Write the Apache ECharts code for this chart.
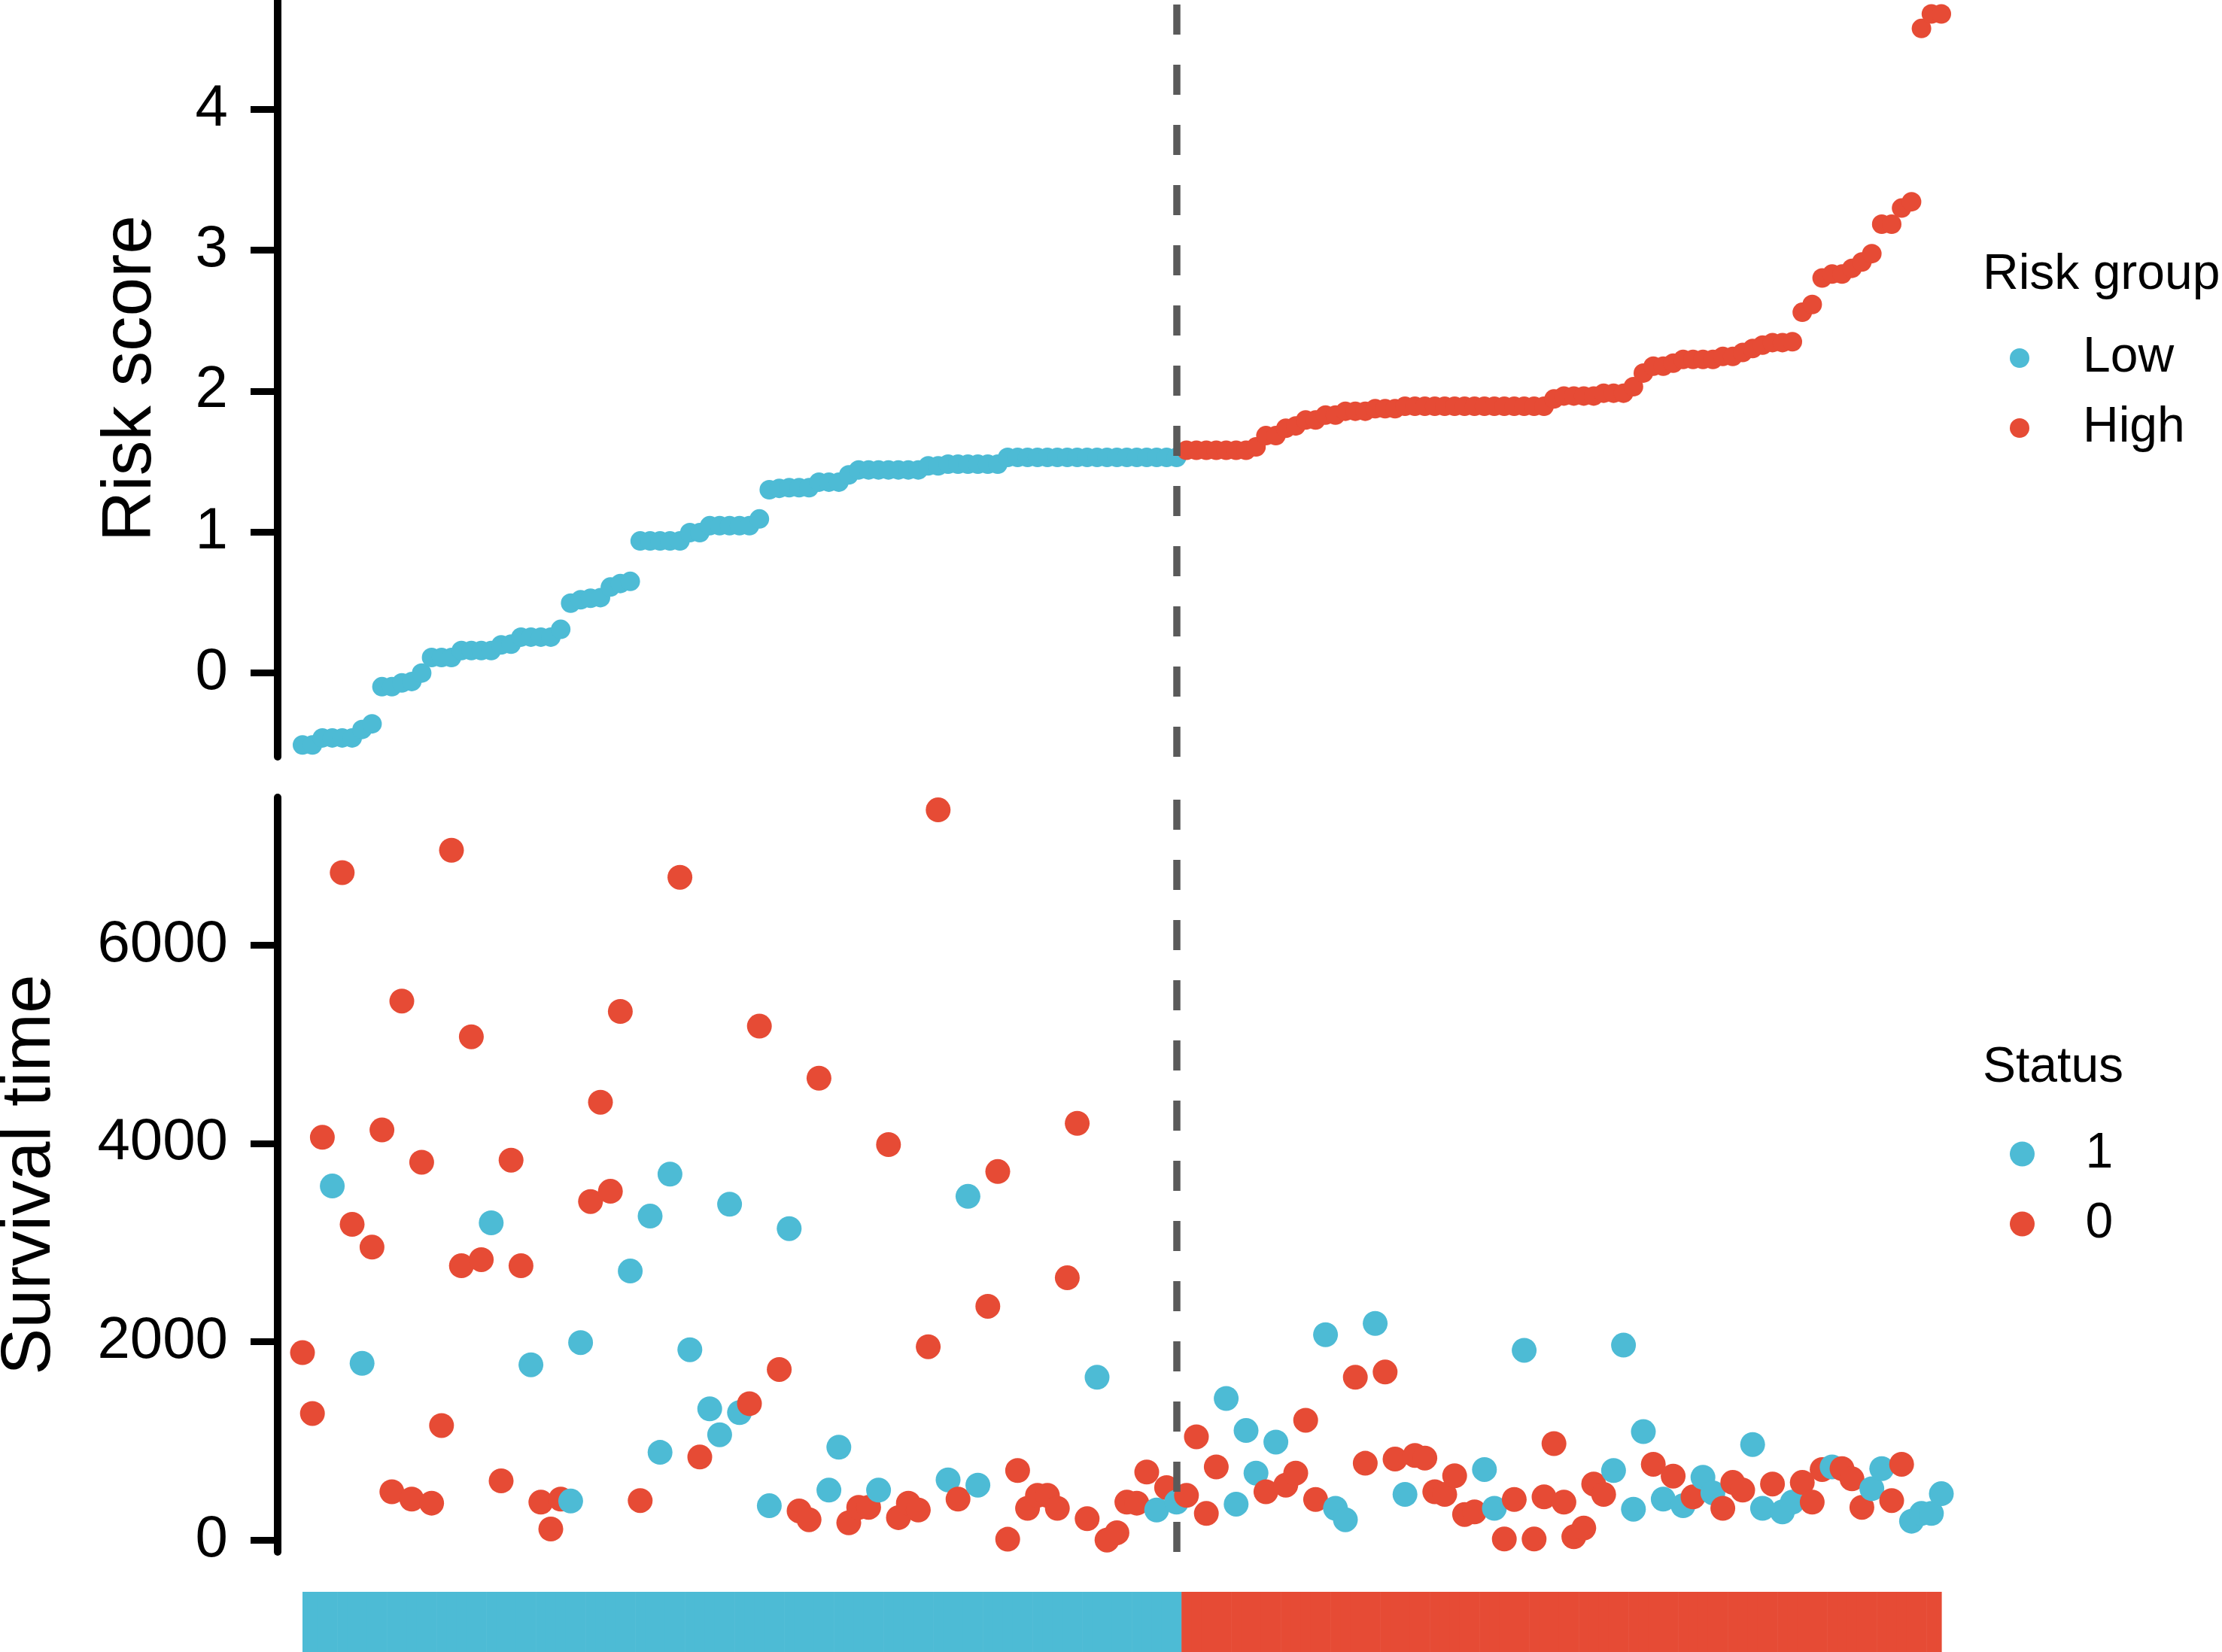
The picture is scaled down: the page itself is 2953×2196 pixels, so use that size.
<!DOCTYPE html>
<html>
<head>
<meta charset="utf-8">
<script src="https://cdn.jsdelivr.net/npm/echarts@6/dist/echarts.min.js"></script>
<style>
html,body{margin:0;padding:0;background:#fff;}
#chart{width:2953px;height:2196px;}
</style>
</head>
<body>
<div id="chart"></div>
<script>
// ---- Data ----
// Risk scores of the low-risk group (sorted, samples 1..89)
const lowRiskScore = [
  -0.51, -0.51, -0.46, -0.46, -0.46, -0.46, -0.40, -0.36,
  -0.097, -0.097, -0.07, -0.06, 0.0,
  0.11, 0.11, 0.11, 0.16, 0.16, 0.16, 0.16, 0.20, 0.205, 0.255, 0.255, 0.255, 0.255, 0.31,
  0.496, 0.52, 0.53, 0.535, 0.61, 0.635, 0.65,
  0.937, 0.937, 0.937, 0.937, 0.937, 0.996, 0.996, 1.045, 1.045, 1.045, 1.045, 1.045, 1.093,
  1.30, 1.31, 1.315, 1.315, 1.315,
  1.354, 1.354, 1.354,
  1.406,
  1.441, 1.441, 1.441, 1.441, 1.441, 1.441, 1.441,
  1.47, 1.47,
  1.482, 1.482, 1.482, 1.482, 1.482, 1.482,
  1.53, 1.53, 1.53, 1.53, 1.53, 1.53, 1.53, 1.53, 1.53, 1.53, 1.53, 1.53, 1.53, 1.53, 1.53, 1.53, 1.53, 1.53
];
// Risk scores of the high-risk group (sorted, samples 90..166)
const highRiskScore = [
  1.58, 1.58, 1.58, 1.58, 1.58, 1.58, 1.58, 1.604, 1.684, 1.684,
  1.736, 1.753, 1.795, 1.795, 1.83, 1.83, 1.857, 1.857, 1.857, 1.875,
  1.875, 1.875, 1.892, 1.892, 1.892, 1.892, 1.892, 1.892, 1.892, 1.892,
  1.892, 1.892, 1.892, 1.892, 1.892, 1.892, 1.892, 1.944, 1.965, 1.965,
  1.965, 1.965, 1.985, 1.985, 1.985, 2.031, 2.128, 2.177, 2.177, 2.198,
  2.225, 2.225, 2.225, 2.225, 2.246, 2.246, 2.274, 2.302, 2.326, 2.344,
  2.344, 2.35, 2.559, 2.614, 2.802, 2.83, 2.83, 2.871, 2.916, 2.975,
  3.184, 3.184, 3.298, 3.343, 4.572, 4.675, 4.675
];
// Survival time of each sample (same order as risk score)
const survivalTime = [
  1889, 1276, 4060, 3569, 6729, 3183, 1782, 2953, 4134, 487,
  5434, 413, 3809, 372, 1155, 6954, 2765, 5074, 2827, 3198,
  597, 3830, 2765, 1767, 382, 111, 413, 393, 1991, 3413,
  4414, 3516, 5329, 2712, 398, 3266, 884, 3689, 6682, 1919,
  837, 1323, 1062, 3386, 1285, 1375, 5181, 346, 1720, 3140,
  294, 205, 4656, 503, 936, 174, 330, 330, 503, 3987,
  226, 372, 303, 1949, 7361, 607, 413, 3465, 554, 2357,
  3715, 8, 701, 320, 450, 450, 320, 2644, 4201, 215,
  1641, 0, 74, 382, 372, 686, 303, 529, 382, 450,
  1041, 268, 737, 1427, 362, 1104, 675, 487, 988, 554,
  675, 1208, 409, 2070, 320, 205, 1641, 774, 2184, 1694,
  816, 460, 853, 827, 487, 460, 648, 258, 283, 711,
  320, 10, 409, 1913, 10, 435, 972, 382, 33, 121,
  565, 460, 701, 1965, 311, 1093, 764, 413, 645, 346,
  435, 633, 476, 320, 581, 503, 963, 320, 565, 283,
  382, 581, 382, 711, 737, 720, 617, 330, 518, 720,
  398, 764, 190, 268, 268, 467
];
// Status of each sample (1 / 0)
const status = [
  0,0,0,1,0,0,1,0,0,0,
  0,0,0,0,0,0,0,0,0,1,
  0,0,0,1,0,0,0,1,1,0,
  0,0,0,1,0,1,1,1,0,1,
  0,1,1,1,1,0,0,1,0,1,
  0,0,0,1,1,0,0,0,1,0,
  0,0,0,0,0,1,0,1,1,0,
  0,0,0,0,0,0,0,0,0,0,
  1,0,0,0,0,0,1,0,1,0,
  0,0,0,1,1,1,1,0,1,0,
  0,0,0,1,1,1,0,0,1,0,
  0,1,0,0,0,0,0,0,0,1,
  1,0,0,1,0,0,0,0,0,0,
  0,0,1,1,1,1,0,1,0,1,
  0,1,1,0,0,0,1,1,0,1,
  1,0,0,0,1,0,0,0,1,1,
  0,0,1,1,1,1
];
const riskTicks = [0, 1, 2, 3, 4];
const survivalTicks = [0, 2000, 4000, 6000];
const groupNames = ['Low', 'High'];
const statusNames = ['1', '0'];

// ---- Derived ----
const nLow = lowRiskScore.length;
const riskScore = lowRiskScore.concat(highRiskScore);
const N = riskScore.length;
const sampleIndex = riskScore.map((_, k) => k + 1);

const BLUE = '#4DBBD5';
const RED = '#E64B35';
const FONT = "'Liberation Sans', Arial, Helvetica, sans-serif";

const GL = 369, GW = 2250.6;
const xAxisBase = { type: 'value', min: -1.5, max: 169, show: false };

function yAxisStyle(ticks) {
  return {
    axisLine: { show: true, onZero: false, lineStyle: { color: '#000', width: 10 } },
    axisTick: { show: true, length: 36, lineStyle: { color: '#000', width: 9 }, customValues: ticks },
    axisLabel: { show: true, margin: 66, fontSize: 78, color: '#000', fontFamily: FONT,
                 customValues: ticks, formatter: v => String(v) },
    splitLine: { show: false },
    nameLocation: 'middle',
    nameTextStyle: { fontSize: 93, color: '#000', fontFamily: FONT }
  };
}

const chart = echarts.init(document.getElementById('chart'), null, { width: 2953, height: 2196 });

const option = {
  animation: false,
  backgroundColor: '#ffffff',
  textStyle: { fontFamily: FONT },
  title: [
    { text: 'Risk group', left: 2635, top: 333, padding: 0,
      textStyle: { fontSize: 66, fontWeight: 'normal', color: '#000', fontFamily: FONT } },
    { text: 'Status', left: 2635, top: 1387, padding: 0,
      textStyle: { fontSize: 66, fontWeight: 'normal', color: '#000', fontFamily: FONT } }
  ],
  legend: [
    { data: groupNames, orient: 'vertical', left: 2671, top: 443, padding: 0,
      itemWidth: 158, itemHeight: 26, itemGap: 27, icon: 'circle', selectedMode: false,
      textStyle: { fontSize: 66, color: '#000', fontFamily: FONT } },
    { data: statusNames, orient: 'vertical', left: 2671, top: 1501, padding: 0,
      itemWidth: 158, itemHeight: 33, itemGap: 27, icon: 'circle', selectedMode: false,
      textStyle: { fontSize: 66, color: '#000', fontFamily: FONT } }
  ],
  grid: [
    { left: GL, top: 0, width: GW, height: 1006, containLabel: false, outerBoundsMode: 'none' },
    { left: GL, top: 1060, width: GW, height: 1003, containLabel: false, outerBoundsMode: 'none' },
    { left: GL, top: 2116, width: GW, height: 80, containLabel: false, outerBoundsMode: 'none' }
  ],
  xAxis: [
    Object.assign({ gridIndex: 0 }, xAxisBase),
    Object.assign({ gridIndex: 1 }, xAxisBase),
    Object.assign({ gridIndex: 2 }, xAxisBase)
  ],
  yAxis: [
    Object.assign({ type: 'value', gridIndex: 0, min: -0.594, max: 4.774, name: 'Risk score', nameGap: 148 },
                  yAxisStyle(riskTicks)),
    Object.assign({ type: 'value', gridIndex: 1, min: -120, max: 7487, name: 'Survival time', nameGap: 282 },
                  yAxisStyle(survivalTicks)),
    { type: 'value', gridIndex: 2, min: 0, max: 1, show: false }
  ],
  series: [
    { name: groupNames[0], type: 'scatter', xAxisIndex: 0, yAxisIndex: 0, symbol: 'circle', symbolSize: 26,
      itemStyle: { color: BLUE, opacity: 1 }, silent: true,
      data: lowRiskScore.map((v, k) => [k + 1, v]) },
    { name: groupNames[1], type: 'scatter', xAxisIndex: 0, yAxisIndex: 0, symbol: 'circle', symbolSize: 26,
      itemStyle: { color: RED, opacity: 1 }, silent: true,
      data: highRiskScore.map((v, k) => [nLow + k + 1, v]) },
    { name: 'survival', type: 'scatter', xAxisIndex: 1, yAxisIndex: 1, symbol: 'circle', symbolSize: 33,
      silent: true,
      data: sampleIndex.map(i => ({ value: [i, survivalTime[i - 1]],
                                    itemStyle: { color: status[i - 1] === 1 ? BLUE : RED, opacity: 1 } })) },
    { name: statusNames[0], type: 'scatter', xAxisIndex: 1, yAxisIndex: 1,
      itemStyle: { color: BLUE, opacity: 1 }, data: [] },
    { name: statusNames[1], type: 'scatter', xAxisIndex: 1, yAxisIndex: 1,
      itemStyle: { color: RED, opacity: 1 }, data: [] },
    { name: 'cutTop', type: 'scatter', xAxisIndex: 0, yAxisIndex: 0, data: [], z: 10,
      markLine: { silent: true, symbol: ['none', 'none'], label: { show: false }, animation: false,
                  lineStyle: { color: '#5a5a5a', width: 9.5, type: [40, 40], opacity: 1 },
                  data: [{ xAxis: nLow }] } },
    { name: 'cutBottom', type: 'scatter', xAxisIndex: 1, yAxisIndex: 1, data: [], z: 10,
      markLine: { silent: true, symbol: ['none', 'none'], label: { show: false }, animation: false,
                  lineStyle: { color: '#5a5a5a', width: 9.5, type: [40, 40], opacity: 1 },
                  data: [{ xAxis: nLow }] } },
    { name: 'strip', type: 'custom', xAxisIndex: 2, yAxisIndex: 2, silent: true,
      data: sampleIndex.map(i => [i, i <= nLow ? 0 : 1]),
      renderItem: function (params, api) {
        const i = api.value(0);
        const lo = Math.max(i - 0.5, 1), hi = Math.min(i + 0.5, N);
        const a = api.coord([lo, 1]);
        const b = api.coord([hi, 0]);
        return { type: 'rect',
                 shape: { x: a[0], y: a[1], width: b[0] - a[0] + 0.6, height: b[1] - a[1] },
                 style: { fill: api.value(1) === 0 ? BLUE : RED } };
      } }
  ]
};
chart.setOption(option);
</script>
</body>
</html>
